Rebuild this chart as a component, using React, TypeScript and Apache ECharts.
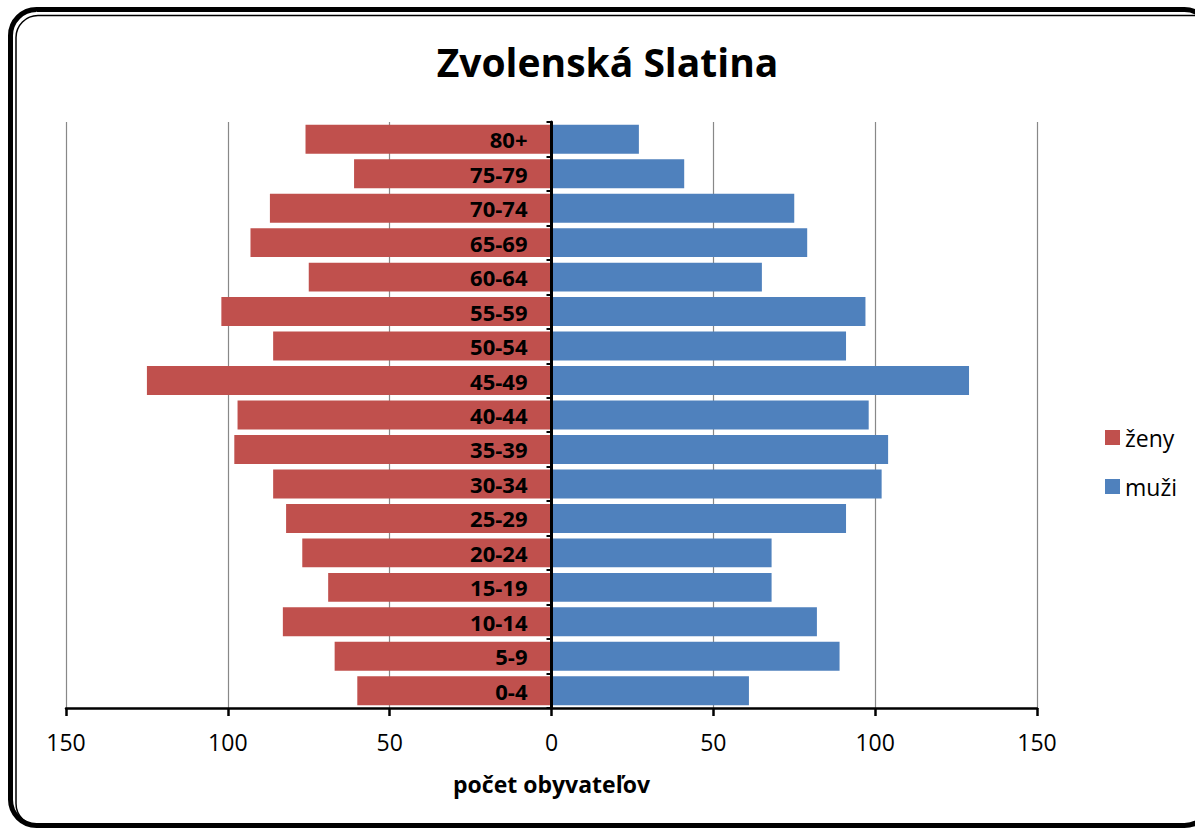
import React, { useEffect, useRef } from "react";
import * as echarts from "echarts";

const categories = ["0-4", "5-9", "10-14", "15-19", "20-24", "25-29", "30-34", "35-39", "40-44", "45-49", "50-54", "55-59", "60-64", "65-69", "70-74", "75-79", "80+"];
const zeny = [60, 67, 83, 69, 77, 82, 86, 98, 97, 125, 86, 102, 75, 93, 87, 61, 76];
const muzi = [61, 89, 82, 68, 68, 91, 102, 104, 98, 129, 91, 97, 65, 79, 75, 41, 27];
const titleText = "Zvolenská Slatina";
const axisName = "počet obyvateľov";
const xTicks = { min: -150, max: 150, interval: 50 };

const FONT = "Open Sans";

export default function App() {
  const ref = useRef<HTMLDivElement>(null);
  useEffect(() => {
    const chart = echarts.init(ref.current!, null, { renderer: "svg" });
    const gridLeft = 66;
    const gridRight = 158;
    const plotW = 1195 - gridLeft - gridRight;
    chart.setOption({
      animation: false,
      textStyle: { fontFamily: FONT },
      grid: { left: gridLeft, right: gridRight, top: 122, bottom: 121, containLabel: false },
      legend: {
        data: ["ženy", "muži"],
        orient: "vertical",
        left: 1100,
        top: 417,
        itemWidth: 15,
        itemHeight: 15,
        itemGap: 18,
        icon: "rect",
        textStyle: { fontSize: 23, color: "#000", fontFamily: FONT, lineHeight: 31 },
      },
      xAxis: {
        type: "value",
        min: xTicks.min,
        max: xTicks.max,
        interval: xTicks.interval,
        axisLine: { show: true, lineStyle: { color: "#000", width: 2.5 } },
        axisTick: { show: true, length: 8, lineStyle: { color: "#000", width: 2.5 } },
        axisLabel: {
          margin: 22,
          fontSize: 23,
          color: "#000",
          fontFamily: FONT,
          formatter: (v: number) => String(Math.abs(v)),
        },
        splitLine: { show: true, lineStyle: { color: "#888", width: 1.2 } },
        name: axisName,
        nameLocation: "middle",
        nameGap: 64,
        nameTextStyle: { fontSize: 23, fontWeight: "bold", color: "#000", fontFamily: FONT },
      },
      yAxis: {
        type: "category",
        data: categories,
        offset: -plotW / 2,
        axisLine: { show: true, onZero: false, lineStyle: { color: "#000", width: 3 } },
        axisTick: { show: true, length: 5, lineStyle: { color: "#000", width: 2 } },
        axisLabel: { margin: 24, fontSize: 22, fontWeight: "bold", color: "#000", fontFamily: FONT },
        splitLine: { show: false },
        z: 10,
      },
      series: [
        {
          name: "ženy",
          type: "bar",
          stack: "total",
          barCategoryGap: "16%",
          itemStyle: { color: "#C0504D" },
          data: zeny.map((v) => -v),
        },
        {
          name: "muži",
          type: "bar",
          stack: "total",
          barCategoryGap: "16%",
          itemStyle: { color: "#4F81BD" },
          data: muzi,
        },
      ],
      graphic: [
        {
          type: "text",
          x: 607.5,
          y: 61,
          style: {
            text: titleText,
            font: `bold 39px '${FONT}'`,
            fill: "#000",
            textAlign: "center",
            textVerticalAlign: "middle",
          },
        },
        {
          type: "rect",
          shape: { x: 10.5, y: 9.5, width: 1200, height: 816, r: 26 },
          style: { fill: "none", stroke: "#000", lineWidth: 5 },
          z: 100,
        },
        {
          type: "rect",
          shape: { x: 16, y: 15.5, width: 1200, height: 810, r: 22 },
          style: { fill: "none", stroke: "#000", lineWidth: 1.5 },
          z: 100,
        },
      ],
    });
    return () => chart.dispose();
  }, []);
  return (
    <div style={{ position: "fixed", left: 0, top: 0, width: 1195, height: 829, background: "#fff" }}>
      <div ref={ref} style={{ width: 1195, height: 829 }} />
    </div>
  );
}
